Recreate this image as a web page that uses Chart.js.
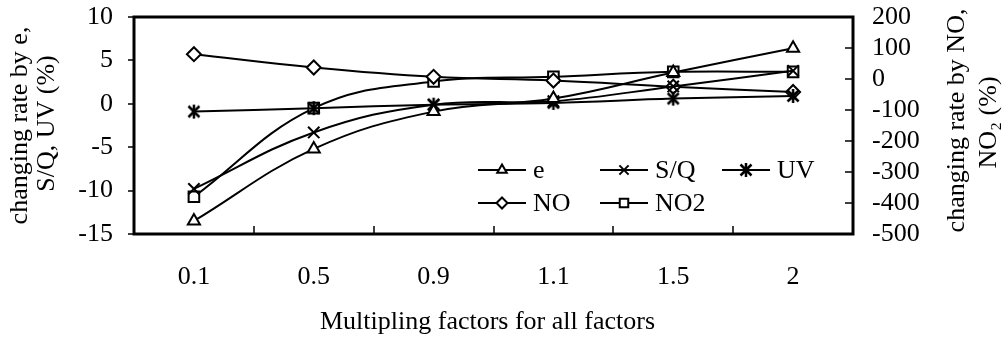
<!DOCTYPE html>
<html>
<head>
<meta charset="utf-8">
<script src="https://cdn.jsdelivr.net/npm/chart.js@4.4.1/dist/chart.umd.min.js"></script>
<style>
  html, body { margin: 0; padding: 0; background: #fff; }
  #wrap { width: 1004px; height: 343px; }
</style>
</head>
<body>
<div id="wrap"><canvas id="chart"></canvas></div>
<script>
const factors = ['0.1', '0.5', '0.9', '1.1', '1.5', '2']
// left axis (%)
const eRate = [-13.5, -5.2, -0.9, 0.6, 3.6, 6.4]
const sqRate = [-9.8, -3.3, -0.1, 0.3, 2.0, 3.8]
const uvRate = [-0.9, -0.5, -0.1, 0.1, 0.6, 0.9]
// right axis (%)
const noRate = [80, 37, 7, -5, -25, -42]
const no2Rate = [-380, -94, -8, 7, 23, 23]

const leftMin = -15, leftMax = 10, leftStep = 5
const rightMin = -500, rightMax = 200, rightStep = 100

const FONT = "'Liberation Serif', 'Times New Roman', serif"
const FSIZE = 26

// asterisk marker: an x with a vertical bar
function makeAsterisk() {
  const c = document.createElement('canvas')
  c.width = 18
  c.height = 18
  const g = c.getContext('2d')
  g.strokeStyle = '#000'
  g.lineWidth = 2.5
  g.beginPath()
  g.moveTo(3.5, 3.5); g.lineTo(14.5, 14.5)
  g.moveTo(14.5, 3.5); g.lineTo(3.5, 14.5)
  g.moveTo(9, 2); g.lineTo(9, 16)
  g.stroke()
  return c
}
const asterisk = makeAsterisk()

function series(label, data, style, radius, axis) {
  return {
    label: label,
    data: data,
    yAxisID: axis,
    borderColor: '#000',
    backgroundColor: '#fff',
    borderWidth: 2,
    tension: 0.4,
    pointStyle: style,
    pointRadius: radius,
    pointBorderWidth: 2,
    pointBackgroundColor: '#fff',
    pointBorderColor: '#000',
  }
}

const datasets = [
  series('e', eRate, 'triangle', 7, 'yL'),
  series('S/Q', sqRate, 'crossRot', 8, 'yL'),
  series('UV', uvRate, asterisk, 8, 'yL'),
  series('NO', noRate, 'rectRot', 7, 'yR'),
  series('NO2', no2Rate, 'rect', 7.5, 'yR'),
]

const legendCols = [478, 600, 722]
const legendRows = [170, 203]

const framePlugin = {
  id: 'frame',
  afterDraw(chart) {
    const { ctx, chartArea: a, scales } = chart
    ctx.save()
    ctx.strokeStyle = '#000'
    ctx.lineWidth = 3
    ctx.strokeRect(a.left, a.top, a.right - a.left, a.bottom - a.top)

    ctx.beginPath()
    scales.yL.ticks.forEach((t) => {
      const y = Math.round(scales.yL.getPixelForValue(t.value))
      ctx.moveTo(a.left - 6, y); ctx.lineTo(a.left, y)
    })
    scales.yR.ticks.forEach((t) => {
      const y = Math.round(scales.yR.getPixelForValue(t.value))
      ctx.moveTo(a.right - 8, y); ctx.lineTo(a.right, y)
    })
    for (let i = 1; i < factors.length; i++) {
      const x = Math.round((scales.x.getPixelForValue(i - 1) + scales.x.getPixelForValue(i)) / 2)
      ctx.moveTo(x, a.bottom); ctx.lineTo(x, a.bottom - 8)
    }
    ctx.lineWidth = 1.5
    ctx.stroke()

    // legend
    ctx.font = FSIZE + 'px ' + FONT
    ctx.fillStyle = '#000'
    ctx.textBaseline = 'middle'
    ctx.textAlign = 'left'
    chart.data.datasets.forEach((ds, i) => {
      const x0 = legendCols[i % 3]
      const y0 = legendRows[Math.floor(i / 3)]
      ctx.beginPath()
      ctx.lineWidth = 2
      ctx.moveTo(x0, y0); ctx.lineTo(x0 + 48, y0)
      ctx.stroke()
      ctx.fillStyle = '#fff'
      Chart.helpers.drawPoint(ctx, { pointStyle: ds.pointStyle, radius: ds.pointRadius - 1.5, borderWidth: 2, rotation: 0 }, x0 + 24, y0)
      ctx.fillStyle = '#000'
      ctx.fillText(ds.label, x0 + 55, y0 + 1)
    })

    // axis titles
    const midY = (a.top + a.bottom) / 2
    ctx.textAlign = 'center'
    ctx.save()
    ctx.translate(20, midY)
    ctx.rotate(-Math.PI / 2)
    ctx.fillText('changing rate by e,', 0, 0)
    ctx.restore()
    ctx.save()
    ctx.translate(47, midY - 2)
    ctx.rotate(-Math.PI / 2)
    ctx.fillText('S/Q, UV (%)', 0, 0)
    ctx.restore()
    ctx.save()
    ctx.translate(957, midY - 5)
    ctx.rotate(-Math.PI / 2)
    ctx.fillText('changing rate by NO,', 0, 0)
    ctx.restore()
    ctx.save()
    ctx.translate(989, midY - 3)
    ctx.rotate(-Math.PI / 2)
    ctx.fillText('NO\u2082 (%)', 0, 0)
    ctx.restore()

    ctx.fillText('Multipling factors for all factors', (a.left + a.right) / 2 - 6, 322)
    ctx.restore()
  },
}

function fitY(width) {
  return (s) => {
    s.width = width
    s.paddingTop = 0
    s.paddingBottom = 0
  }
}

new Chart(document.getElementById('chart'), {
  type: 'line',
  data: { labels: factors, datasets: datasets },
  options: {
    responsive: true,
    maintainAspectRatio: false,
    animation: false,
    layout: { padding: { top: 17, left: 0, right: 0, bottom: 0 } },
    plugins: { legend: { display: false }, tooltip: { enabled: false } },
    scales: {
      x: {
        offset: true,
        grid: { display: false },
        border: { display: false },
        ticks: { color: '#000', font: { family: FONT, size: FSIZE }, padding: 20, maxRotation: 0, autoSkip: false },
        afterFit(s) { s.height = 109 },
      },
      yL: {
        position: 'left',
        min: leftMin,
        max: leftMax,
        grid: { display: false },
        border: { display: false },
        ticks: { stepSize: leftStep, color: '#000', font: { family: FONT, size: FSIZE }, padding: 13, autoSkip: false },
        afterFit: fitY(134),
      },
      yR: {
        position: 'right',
        min: rightMin,
        max: rightMax,
        grid: { display: false },
        border: { display: false },
        ticks: { stepSize: rightStep, color: '#000', font: { family: FONT, size: FSIZE }, padding: 11, autoSkip: false },
        afterFit: fitY(151),
      },
    },
  },
  plugins: [framePlugin],
})
</script>
</body>
</html>
